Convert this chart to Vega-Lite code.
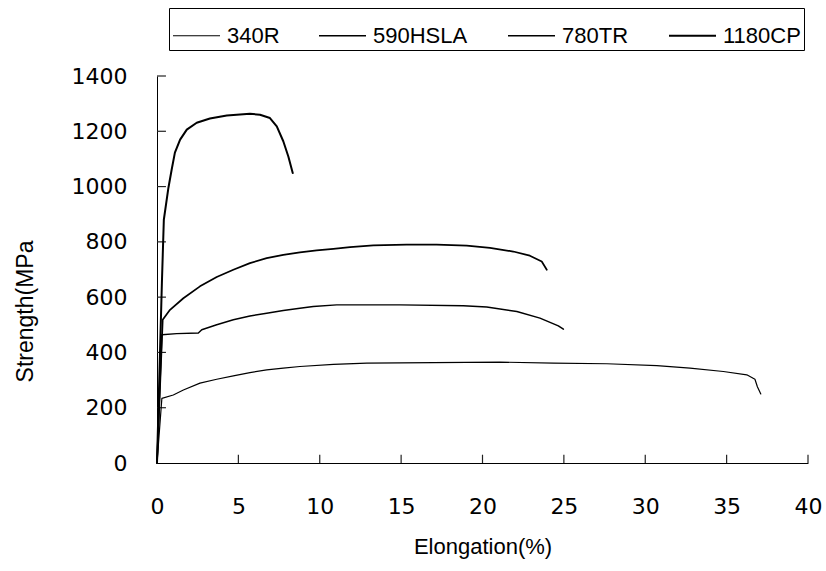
{
  "$schema": "https://vega.github.io/schema/vega-lite/v6.json",
  "width": 651,
  "height": 387,
  "autosize": {"type": "none"},
  "padding": {"left": 157, "top": 76, "right": 18, "bottom": 108},
  "background": "white",
  "config": {
    "view": {"stroke": null},
    "font": "Liberation Sans",
    "axis": {
      "grid": false,
      "domainColor": "black",
      "domainWidth": 1,
      "ticks": false,
      "labelColor": "black",
      "titleColor": "black",
      "labelFont": "DejaVu Sans",
      "titleFont": "Liberation Sans",
      "titleFontWeight": "normal",
      "labelFontSize": 22,
      "labelFlush": false,
      "labelOverlap": false
    }
  },
  "datasets": {
    "curves": [
      {"series": "340R", "elong": 0, "strength": 0},
      {"series": "340R", "elong": 0.3, "strength": 234},
      {"series": "340R", "elong": 1.0, "strength": 246},
      {"series": "340R", "elong": 1.62, "strength": 264},
      {"series": "340R", "elong": 2.64, "strength": 289},
      {"series": "340R", "elong": 3.67, "strength": 303},
      {"series": "340R", "elong": 4.69, "strength": 315},
      {"series": "340R", "elong": 5.71, "strength": 327},
      {"series": "340R", "elong": 6.74, "strength": 337},
      {"series": "340R", "elong": 7.76, "strength": 343},
      {"series": "340R", "elong": 8.78, "strength": 349},
      {"series": "340R", "elong": 10.84, "strength": 357},
      {"series": "340R", "elong": 12.89, "strength": 361},
      {"series": "340R", "elong": 16.98, "strength": 363},
      {"series": "340R", "elong": 21.07, "strength": 365},
      {"series": "340R", "elong": 24.36, "strength": 361},
      {"series": "340R", "elong": 27.64, "strength": 359},
      {"series": "340R", "elong": 30.71, "strength": 352},
      {"series": "340R", "elong": 32.75, "strength": 343},
      {"series": "340R", "elong": 34.8, "strength": 331},
      {"series": "340R", "elong": 36.24, "strength": 319},
      {"series": "340R", "elong": 36.74, "strength": 303},
      {"series": "340R", "elong": 36.89, "strength": 276},
      {"series": "340R", "elong": 37.1, "strength": 250},
      {"series": "590HSLA", "elong": 0, "strength": 0},
      {"series": "590HSLA", "elong": 0.3, "strength": 464},
      {"series": "590HSLA", "elong": 1.21, "strength": 468},
      {"series": "590HSLA", "elong": 2.54, "strength": 470},
      {"series": "590HSLA", "elong": 2.75, "strength": 482},
      {"series": "590HSLA", "elong": 3.67, "strength": 500},
      {"series": "590HSLA", "elong": 4.69, "strength": 518},
      {"series": "590HSLA", "elong": 5.71, "strength": 532},
      {"series": "590HSLA", "elong": 6.74, "strength": 542},
      {"series": "590HSLA", "elong": 7.76, "strength": 552},
      {"series": "590HSLA", "elong": 8.78, "strength": 560},
      {"series": "590HSLA", "elong": 9.6, "strength": 566},
      {"series": "590HSLA", "elong": 11.04, "strength": 572},
      {"series": "590HSLA", "elong": 14.93, "strength": 572},
      {"series": "590HSLA", "elong": 18.82, "strength": 569},
      {"series": "590HSLA", "elong": 20.26, "strength": 564},
      {"series": "590HSLA", "elong": 22.11, "strength": 548},
      {"series": "590HSLA", "elong": 23.53, "strength": 524},
      {"series": "590HSLA", "elong": 24.66, "strength": 496},
      {"series": "590HSLA", "elong": 24.97, "strength": 484},
      {"series": "780TR", "elong": 0, "strength": 0},
      {"series": "780TR", "elong": 0.35, "strength": 518},
      {"series": "780TR", "elong": 0.8, "strength": 554},
      {"series": "780TR", "elong": 1.62, "strength": 596},
      {"series": "780TR", "elong": 2.64, "strength": 639},
      {"series": "780TR", "elong": 3.67, "strength": 673},
      {"series": "780TR", "elong": 4.69, "strength": 699},
      {"series": "780TR", "elong": 5.71, "strength": 723},
      {"series": "780TR", "elong": 6.74, "strength": 741},
      {"series": "780TR", "elong": 7.76, "strength": 753},
      {"series": "780TR", "elong": 8.78, "strength": 762},
      {"series": "780TR", "elong": 9.81, "strength": 769},
      {"series": "780TR", "elong": 10.84, "strength": 775},
      {"series": "780TR", "elong": 11.86, "strength": 781},
      {"series": "780TR", "elong": 13.29, "strength": 787},
      {"series": "780TR", "elong": 15.34, "strength": 790},
      {"series": "780TR", "elong": 17.18, "strength": 790},
      {"series": "780TR", "elong": 19.03, "strength": 786},
      {"series": "780TR", "elong": 20.46, "strength": 778},
      {"series": "780TR", "elong": 21.89, "strength": 765},
      {"series": "780TR", "elong": 22.91, "strength": 750},
      {"series": "780TR", "elong": 23.64, "strength": 729},
      {"series": "780TR", "elong": 23.95, "strength": 699},
      {"series": "1180CP", "elong": 0, "strength": 0},
      {"series": "1180CP", "elong": 0.3, "strength": 650},
      {"series": "1180CP", "elong": 0.42, "strength": 880},
      {"series": "1180CP", "elong": 0.7, "strength": 995},
      {"series": "1180CP", "elong": 0.9, "strength": 1061},
      {"series": "1180CP", "elong": 1.1, "strength": 1123},
      {"series": "1180CP", "elong": 1.42, "strength": 1170},
      {"series": "1180CP", "elong": 1.83, "strength": 1206},
      {"series": "1180CP", "elong": 2.44, "strength": 1231},
      {"series": "1180CP", "elong": 3.25, "strength": 1246},
      {"series": "1180CP", "elong": 4.29, "strength": 1257},
      {"series": "1180CP", "elong": 5.71, "strength": 1263},
      {"series": "1180CP", "elong": 6.33, "strength": 1260},
      {"series": "1180CP", "elong": 6.94, "strength": 1248},
      {"series": "1180CP", "elong": 7.36, "strength": 1218},
      {"series": "1180CP", "elong": 7.76, "strength": 1164},
      {"series": "1180CP", "elong": 8.07, "strength": 1109},
      {"series": "1180CP", "elong": 8.34, "strength": 1049}
    ],
    "xticks": [
      {"elong": 5}, {"elong": 10}, {"elong": 15}, {"elong": 20},
      {"elong": 25}, {"elong": 30}, {"elong": 35}, {"elong": 40}
    ],
    "yticks": [
      {"strength": 200}, {"strength": 400}, {"strength": 600}, {"strength": 800},
      {"strength": 1000}, {"strength": 1200}, {"strength": 1400}
    ]
  },
  "layer": [
    {
      "data": {"name": "xticks"},
      "mark": {"type": "rule", "color": "#222", "strokeWidth": 1.2},
      "encoding": {
        "x": {"field": "elong", "type": "quantitative"},
        "y": {"datum": 0, "type": "quantitative"},
        "y2": {"datum": 30}
      }
    },
    {
      "data": {"name": "yticks"},
      "mark": {"type": "rule", "color": "#222", "strokeWidth": 1.2},
      "encoding": {
        "y": {"field": "strength", "type": "quantitative"},
        "x": {"datum": 0, "type": "quantitative"},
        "x2": {"datum": 0.55}
      }
    },
    {
      "data": {"name": "curves"},
      "mark": {"type": "line", "color": "black", "strokeCap": "round", "strokeJoin": "round"},
      "encoding": {
        "x": {
          "field": "elong",
          "type": "quantitative",
          "scale": {"domain": [0, 40], "nice": false, "zero": false},
          "axis": {
            "values": [0, 5, 10, 15, 20, 25, 30, 35, 40],
            "format": "d",
            "title": "Elongation(%)",
            "titleFontSize": 22,
            "labelPadding": 33,
            "titlePadding": 19
          }
        },
        "y": {
          "field": "strength",
          "type": "quantitative",
          "scale": {"domain": [0, 1400], "nice": false},
          "axis": {
            "values": [0, 200, 400, 600, 800, 1000, 1200, 1400],
            "format": "d",
            "title": "Strength(MPa",
            "titleFontSize": 23,
            "titleBaseline": "middle",
            "titleX": -132,
            "titleY": 235,
            "labelPadding": 30
          }
        },
        "strokeWidth": {
          "field": "series",
          "type": "nominal",
          "scale": {"domain": ["340R", "590HSLA", "780TR", "1180CP"], "range": [1.2, 2, 3, 4]},
          "legend": {
            "orient": "none",
            "legendX": 12,
            "legendY": -68,
            "direction": "horizontal",
            "title": null,
            "symbolType": "stroke",
            "symbolSize": 2209,
            "symbolStrokeColor": "black",
            "labelFontSize": 22,
            "labelFont": "Liberation Sans",
            "labelColor": "black",
            "labelOffset": 6,
            "columnPadding": 36,
            "padding": 3,
            "strokeColor": "black"
          }
        }
      }
    }
  ]
}
